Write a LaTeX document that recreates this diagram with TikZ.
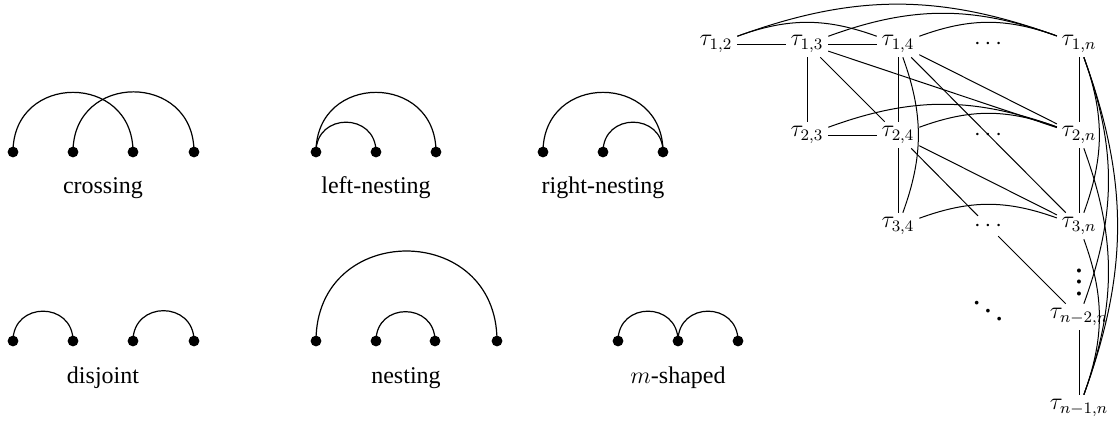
\documentclass[tikz,border=0pt]{standalone}
\usepackage{fontspec}
\setmainfont{Liberation Serif}
\begin{document}
\begin{tikzpicture}[x=0.5pt,y=0.5pt,
  dot/.style={circle,fill,inner sep=0pt,minimum size=5.4pt},
  arcl/.style={line width=0.6pt},
  semi/.style={out=90,in=90,looseness=1.7},
  lbl/.style={anchor=base,inner sep=0pt,font=\fontsize{12}{14}\selectfont},
  g/.style={inner sep=2.2pt,font=\fontsize{12}{14}\selectfont},
  e/.style={line width=0.5pt},
  bl/.style={bend left=20}
]
\useasboundingbox (0,0) rectangle (1120,-420);

% ---- crossing
\node[dot] (a1) at (13,-152) {};
\node[dot] (a2) at (73,-152) {};
\node[dot] (a3) at (133,-152) {};
\node[dot] (a4) at (194,-152) {};
\draw[arcl] (a1.center) to[semi] (a3.center);
\draw[arcl] (a2.center) to[semi] (a4.center);
\node[lbl] (la) at (103,-193) {crossing};

% ---- left-nesting
\node[dot] (b1) at (316,-152) {};
\node[dot] (b2) at (376,-152) {};
\node[dot] (b3) at (436,-152) {};
\draw[arcl] (b1.center) to[semi] (b3.center);
\draw[arcl] (b1.center) to[semi] (b2.center);
\node[lbl] (lb) at (376,-193) {left-nesting};

% ---- right-nesting
\node[dot] (c1) at (543,-152) {};
\node[dot] (c2) at (603,-152) {};
\node[dot] (c3) at (663,-152) {};
\draw[arcl] (c1.center) to[semi] (c3.center);
\draw[arcl] (c2.center) to[semi] (c3.center);
\node[lbl] (lc) at (603,-193) {right-nesting};

% ---- disjoint
\node[dot] (d1a) at (13,-341) {};
\node[dot] (d2a) at (73,-341) {};
\node[dot] (d3a) at (133,-341) {};
\node[dot] (d4a) at (194,-341) {};
\draw[arcl] (d1a.center) to[semi] (d2a.center);
\draw[arcl] (d3a.center) to[semi] (d4a.center);
\node[lbl] (ld) at (103,-383) {disjoint};

% ---- nesting
\node[dot] (n1) at (316,-341) {};
\node[dot] (n2) at (376,-341) {};
\node[dot] (n3) at (435,-341) {};
\node[dot] (n4) at (497,-341) {};
\draw[arcl] (n1.center) to[semi] (n4.center);
\draw[arcl] (n2.center) to[semi] (n3.center);
\node[lbl] (ln) at (406,-383) {nesting};

% ---- m-shaped
\node[dot] (m1) at (618,-341) {};
\node[dot] (m2) at (678,-341) {};
\node[dot] (m3) at (738,-341) {};
\draw[arcl] (m1.center) to[semi] (m2.center);
\draw[arcl] (m2.center) to[semi] (m3.center);
\node[lbl] (lm) at (678,-383) {$m$-shaped};

% ---- graph
\node[g] (t12) at (716,-44) {$\tau_{1,2}$};
\node[g] (t13) at (807,-44) {$\tau_{1,3}$};
\node[g] (t14) at (898,-44) {$\tau_{1,4}$};
\node[g] (h1)  at (988,-44) {$\cdots$};
\node[g] (t1n) at (1079,-44) {$\tau_{1,n}$};
\node[g] (t23) at (807,-135) {$\tau_{2,3}$};
\node[g] (t24) at (898,-135) {$\tau_{2,4}$};
\node[g] (h2)  at (988,-135) {$\cdots$};
\node[g] (t2n) at (1079,-135) {$\tau_{2,n}$};
\node[g] (t34) at (898,-226) {$\tau_{3,4}$};
\node[g] (h3)  at (988,-226) {$\cdots$};
\node[g] (t3n) at (1079,-226) {$\tau_{3,n}$};
\node[g,scale=1.4,anchor=base,inner sep=0pt] (vd) at (1079,-295) {$\vdots$};
\node[g,scale=1.3] (dd) at (988,-303) {$\ddots$};
\node[g] (tn2) at (1079,-317) {$\tau_{n-2,n}$};
\node[g] (tn1) at (1079,-408) {$\tau_{n-1,n}$};

\draw[e] (t12) -- (t13);
\draw[e] (t13) -- (t14);
\draw[e] (t12) to[bl] (t14);
\draw[e] (t12) to[bl] (t1n);
\draw[e] (t13) to[bl] (t1n);
\draw[e] (t14) to[bl] (t1n);
\draw[e] (t13) -- (t23);
\draw[e] (t13) -- (t24);
\draw[e] (t13) -- (t2n);
\draw[e] (t14) -- (t24);
\draw[e] (t14) to[bl] (t34);
\draw[e] (t14) -- (t3n);
\draw[e] (t14) -- (t2n);
\draw[e] (t1n) -- (t2n);
\draw[e] (t1n) to[bl] (t3n);
\draw[e] (t1n) to[bl] (tn2);
\draw[e] (t1n) to[bl] (tn1);
\draw[e] (t23) -- (t24);
\draw[e] (t23) to[bl] (t2n);
\draw[e] (t24) to[bl] (t2n);
\draw[e] (t24) -- (t34);
\draw[e] (t24) -- (h3);
\draw[e] (t24) -- (t3n);
\draw[e] (t2n) -- (t3n);
\draw[e] (t2n) to[bl] (tn1);
\draw[e] (t34) to[bl] (t3n);
\draw[e] (t3n) to[bl] (tn1);
\draw[e] (h3) -- (tn2);
\draw[e] (tn2) -- (tn1);
\end{tikzpicture}
\end{document}
